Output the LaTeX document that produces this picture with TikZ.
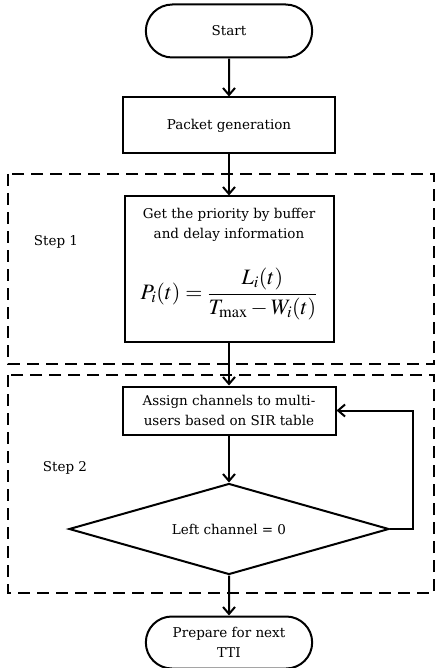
\documentclass[tikz,border=0pt]{standalone}
\usepackage{mathptmx}
\usepackage{fontspec}
\setmainfont{DejaVu Serif}
\usetikzlibrary{shapes.geometric, shapes.misc, arrows.meta, positioning}
\tikzstyle{term} = [rounded rectangle, minimum width=173pt, minimum height=53pt, text centered, align=center, draw=black, line width=2pt]
\tikzstyle{process} = [rectangle, minimum width=212pt, minimum height=56pt, text centered, align=center, draw=black, line width=2pt]
\tikzstyle{decision} = [diamond, aspect=3.5, minimum width=320pt, minimum height=91pt, inner sep=0pt, text centered, draw=black, line width=2pt]
\tikzstyle{arrow} = [line width=2pt, -{Straight Barb[length=7pt,width=12pt,line width=2pt]}]
\tikzstyle{stepbox} = [line width=2pt, dash pattern=on 12pt off 7pt]

\begin{document}
\begin{tikzpicture}[x=1pt, y=-1pt, font=\fontsize{13.5}{20}\selectfont]
	\useasboundingbox (0,0) rectangle (435,668);
	\node (start) [term] at (229,31) {Start};
	\node (pkt) [process, below=38pt of start] {Packet generation};
	\node (prio) [process, below=41pt of pkt, minimum width=209pt, minimum height=145pt] {Get the priority by buffer\\and delay information\\[26pt]{\fontsize{22}{26}\selectfont\raisebox{0pt}[\height][\dimexpr\depth+10pt]{$\displaystyle P_i(t)=\frac{L_i(t)}{T_{\max}-W_i(t)}$}}};
	\node (assign) [process, below=43pt of prio, minimum width=213pt, minimum height=48pt, inner sep=2pt] {Assign channels to multi-\\users based on SIR table};
	\node (check) [decision, below=47pt of assign] {Left channel = 0};
	\node (prep) [term, below=40pt of check, minimum height=52pt] {Prepare for next\\TTI};
	
	\draw [stepbox] (8,174) rectangle (434,364);
	\draw [stepbox] (8,375) rectangle (434,593);
	\node (s1) at (56,242) {Step 1};
	\node (s2) at (65,468) {Step 2};
	
	\draw [arrow] (start) -- (pkt);
	\draw [arrow] (pkt) -- (prio);
	\draw [arrow] (prio) -- (assign);
	\draw [arrow] (assign) -- (check);
	\draw [arrow] (check) -- (prep);
	\draw [arrow] (check.east) -- ++(23,0) |- (assign.east);
\end{tikzpicture}
\end{document}
